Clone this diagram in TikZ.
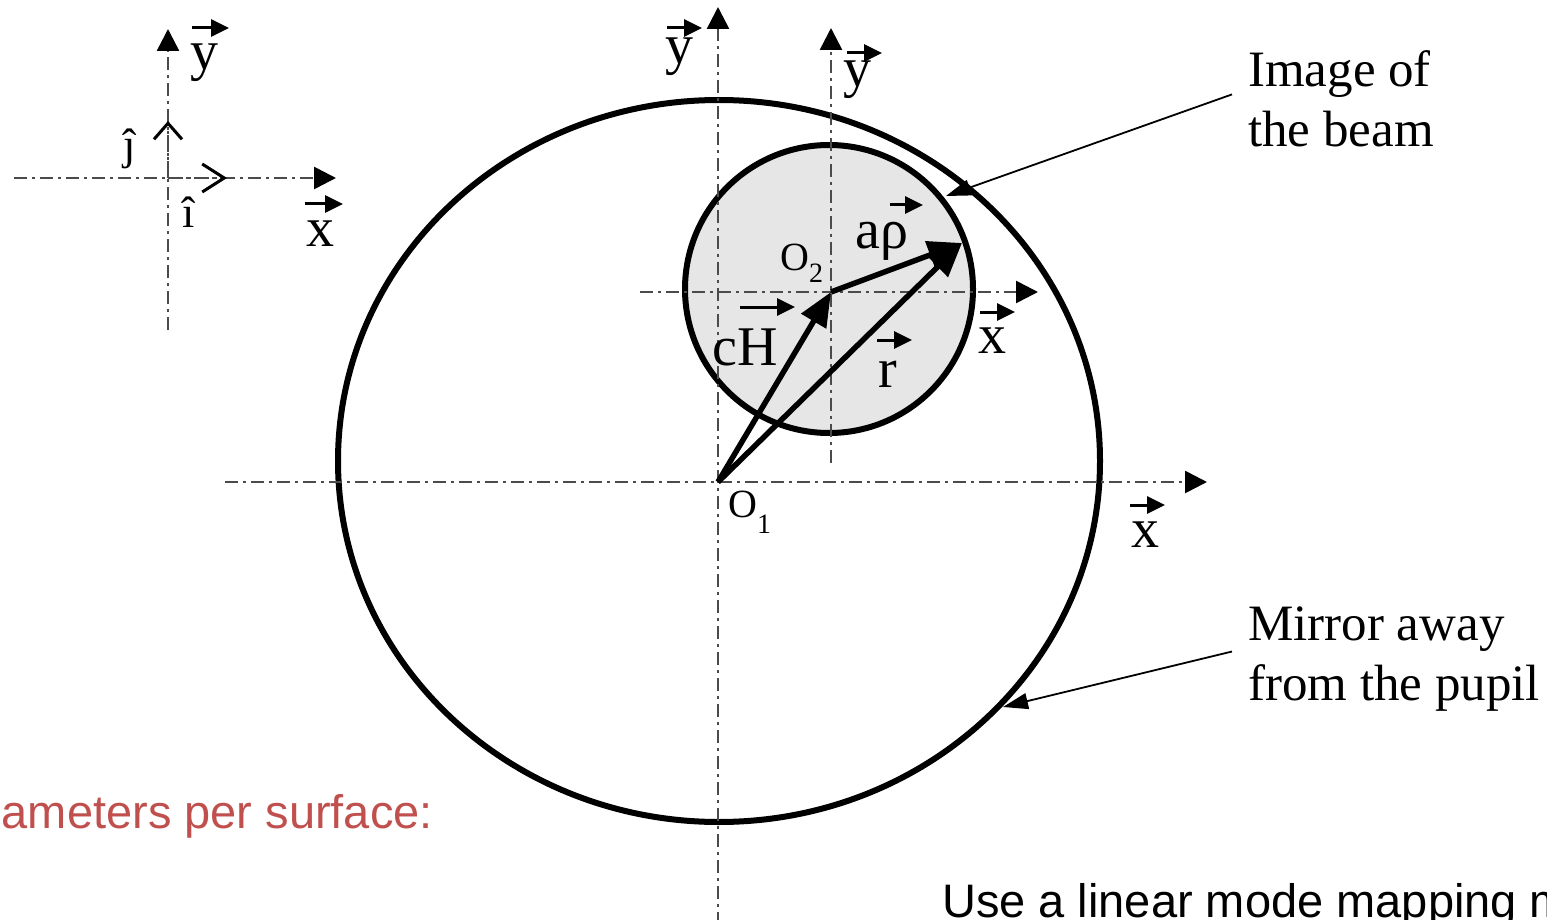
\documentclass[tikz,border=0pt]{standalone}
\usepackage{fontspec}
\setmainfont{Liberation Serif}
\newfontfamily\arialfont{Liberation Sans}
\usetikzlibrary{arrows.meta}
\definecolor{redtxt}{RGB}{192,80,77}
\definecolor{beamfill}{RGB}{230,230,230}
\definecolor{axisgray}{RGB}{75,75,75}
\begin{document}
\begin{tikzpicture}[x=1pt,y=-1pt,
  axisline/.style={draw=axisgray, line width=2.6pt,
    dash pattern=on 13pt off 5pt on 3pt off 5pt,
    -{Triangle[length=22pt,width=22pt,black]}},
  unitvec/.style={draw=axisgray, line width=2.6pt,
    dash pattern=on 13pt off 5pt on 3pt off 5pt},
  vecline/.style={draw=black, line width=5.5pt,
    -{Triangle[length=34pt,width=28pt]}},
  vmark/.style={draw=black, line width=3pt,
    -{Triangle[length=18pt,width=17pt]}},
  pointer/.style={draw=black, line width=1.8pt,
    -{Triangle[length=25pt,width=16pt]}},
  lab/.style={font=\fontsize{56}{60}\selectfont, inner sep=0pt},
  olab/.style={font=\fontsize{40}{44}\selectfont, inner sep=0pt},
  hatlab/.style={font=\fontsize{44}{48}\selectfont, inner sep=0pt},
  bigtxt/.style={font=\fontsize{51}{60}\selectfont, inner sep=0pt, align=left},
  sanstxt/.style={font=\arialfont\fontsize{47}{50}\selectfont, inner sep=0pt}
]
\useasboundingbox (0,0) rectangle (1547,920);

% key points
\coordinate (O1) at (718,482);
\coordinate (O2) at (831,292);
\coordinate (P) at (962,243);
\coordinate (T) at (168,178);

% mirror and beam image
\draw[line width=6pt] (719,461) ellipse [x radius=381pt, y radius=361pt];
\draw[line width=6pt, fill=beamfill] (829,289) circle [radius=144pt];

% axes of the small reference frame (top left)
\coordinate (tlx0) at (14,178);   \coordinate (tlx1) at (336,178);
\coordinate (tly0) at (168,330);  \coordinate (tly1) at (168,29);
\draw[axisline] (tlx0) -- (tlx1);
\draw[axisline] (tly0) -- (tly1);
\coordinate (itip) at (227,178);
\coordinate (jtip) at (168,121);
\draw[unitvec, -{Straight Barb[length=22pt,width=28pt,line width=3pt,black]}] (T) -- (itip);
\draw[unitvec, -{Straight Barb[length=16pt,width=28pt,line width=3pt,black]}] (T) -- (jtip);

% axes through O1
\coordinate (mx0) at (225,482);  \coordinate (mx1) at (1207,482);
\coordinate (my0) at (718,925);  \coordinate (my1) at (718,7);
\draw[axisline] (mx0) -- (mx1);
\draw[axisline] (my0) -- (my1);

% axes through O2
\coordinate (sx0) at (640,292);  \coordinate (sx1) at (1038,292);
\coordinate (sy0) at (831,463);  \coordinate (sy1) at (831,28);
\draw[axisline] (sx0) -- (sx1);
\draw[axisline] (sy0) -- (sy1);

% vectors
\draw[vecline] (O1) -- (O2);
\draw[vecline] (O1) -- (P);
\draw[vecline] (O2) -- (P);

% labels, top-left frame
\node[lab, anchor=base west] (tly) at (190,70) {y};
\draw[vmark] (192,28) -- (229,28);
\node[lab, anchor=base west] (tlx) at (306,247) {x};
\draw[vmark] (305,204) -- (343,204);
\node[hatlab, anchor=base west] (ihat) at (182,227) {î};
\node[hatlab, anchor=base west] (jhat) at (123,160) {ĵ};

% labels, main frame
\node[lab, anchor=base west] (my) at (665,64) {y};
\draw[vmark] (667,28) -- (702,28);
\node[lab, anchor=base west] (mx) at (1131,547) {x};
\draw[vmark] (1130,505) -- (1165,505);
\node[olab, anchor=base west] (o1lab) at (728,517) {O\raisebox{-16pt}{\fontsize{28}{28}\selectfont 1}};

% labels, beam frame
\node[lab, anchor=base west] (sy) at (843,87) {y};
\draw[vmark] (847,53) -- (882,53);
\node[lab, anchor=base west] (sx) at (978,353) {x};
\draw[vmark] (980,312) -- (1015,312);
\node[olab, anchor=base west] (o2lab) at (780,270) {O\raisebox{-12pt}{\fontsize{28}{28}\selectfont 2}};

% vector labels
\node[lab, anchor=base west] (arho) at (855,248) {aρ};
\draw[vmark] (890,205) -- (923,205);
\node[lab, anchor=base west] (ch) at (712,365) {cH};
\draw[vmark] (740,307) -- (795,307);
\node[lab, anchor=base west] (rl) at (878,387) {r};
\draw[vmark] (877,340) -- (912,340);

% callouts
\node[bigtxt, anchor=north west] (img) at (1248,50) {Image of\\the beam};
\coordinate (beamhit) at (946,196);
\draw[pointer] ([xshift=-16pt,yshift=4pt]img.west) -- (beamhit);
\node[bigtxt, anchor=north west] (mir) at (1248,607) {Mirror away\\from the pupil};
\coordinate (mirhit) at (1003,707);
\draw[pointer] ([xshift=-16pt,yshift=8pt]mir.west) -- (mirhit);

% slide text fragments
\node[sanstxt, text=redtxt, anchor=base east] (ptext) at (433,828) {ameters per surface:};
\node[sanstxt, anchor=base west] (utext) at (942,917) {Use a linear mode mapping m};
\end{tikzpicture}
\end{document}
